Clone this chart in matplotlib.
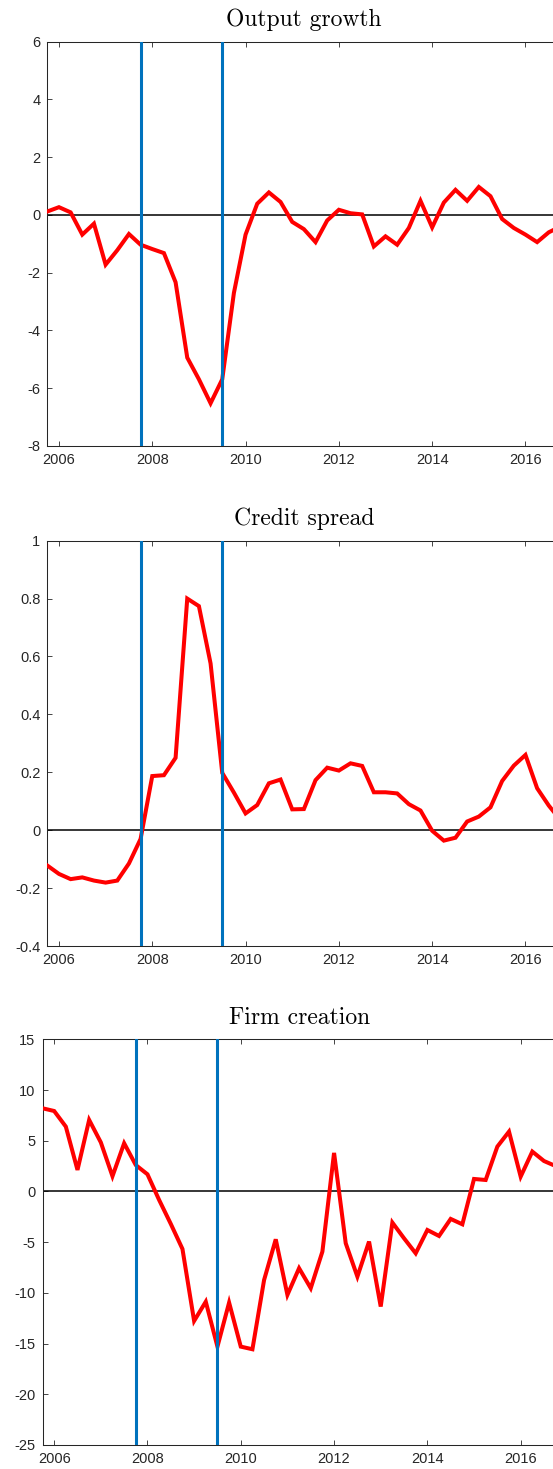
import numpy as np
import matplotlib
matplotlib.use("Agg")
import matplotlib.pyplot as plt

# Quarterly series, first observation 2005Q4
output_growth = [0.12, 0.27, 0.09, -0.68, -0.30, -1.72, -1.22, -0.66, -1.03, -1.18,
                 -1.32, -2.33, -4.94, -5.69, -6.52, -5.69, -2.70, -0.68, 0.39, 0.78,
                 0.45, -0.24, -0.49, -0.94, -0.19, 0.18, 0.06, 0.02, -1.09, -0.74,
                 -1.03, -0.45, 0.49, -0.43, 0.43, 0.87, 0.49, 0.97, 0.65, -0.14,
                 -0.45, -0.68, -0.94, -0.60, -0.40]
credit_spread = [-0.122, -0.151, -0.169, -0.163, -0.174, -0.181, -0.174, -0.115, -0.030, 0.187,
                 0.190, 0.250, 0.800, 0.774, 0.576, 0.198, 0.130, 0.058, 0.087, 0.162,
                 0.175, 0.072, 0.073, 0.173, 0.216, 0.206, 0.231, 0.222, 0.131, 0.131,
                 0.127, 0.090, 0.068, -0.002, -0.036, -0.026, 0.030, 0.047, 0.079, 0.170,
                 0.223, 0.260, 0.145, 0.085, 0.035]
firm_creation = [8.2, 7.93, 6.39, 2.12, 7.05, 4.84, 1.5, 4.75, 2.6, 1.69,
                 -0.84, -3.2, -5.67, -12.77, -10.87, -15.3, -10.96, -15.3, -15.56, -8.73,
                 -4.72, -10.2, -7.57, -9.54, -5.93, 3.8, -5.11, -8.4, -4.94, -11.35,
                 -3.07, -4.62, -6.1, -3.8, -4.39, -2.71, -3.24, 1.23, 1.13, 4.42,
                 5.9, 1.46, 3.93, 3.0, 2.5]

first_quarter = 2005.75
dates = first_quarter + 0.25 * np.arange(len(output_growth))

recession_start = 2007.75
recession_end = 2009.5

titles = ["Output growth", "Credit spread", "Firm creation"]
series = [output_growth, credit_spread, firm_creation]
ylims = [(-8, 6), (-0.4, 1), (-25, 15)]
yticks = [np.arange(-8, 7, 2), np.round(np.arange(-0.4, 1.01, 0.2), 1), np.arange(-25, 16, 5)]
xticks = [2006, 2008, 2010, 2012, 2014, 2016]

plt.rcParams["axes.unicode_minus"] = False
plt.rcParams["font.family"] = ["Liberation Sans", "DejaVu Sans"]

W, H = 553, 1469
fig = plt.figure(figsize=(W / 100, H / 100), dpi=100)

px_per_year = 46.65
# (left, top, bottom) in pixels
boxes = [(47.3, 41.7, 446.0), (47.3, 540.7, 946.0), (42.5, 1039.3, 1445.0)]
xmin, xmax = 2005.75, 2016.75
# the panels run on past the right edge of the figure
xview = 2017.5

ink = "#262626"
for (left, top, bottom), title, y, ylim, yt in zip(boxes, titles, series, ylims, yticks):
    width = (xview - xmin) * px_per_year
    ax = fig.add_axes([left / W, (H - bottom) / H, width / W, (bottom - top) / H])
    ax.axhline(0, color="black", lw=1.1, zorder=2)
    ax.plot(dates, y, color="#FF0000", lw=2.9, solid_joinstyle="miter", zorder=3)
    for xv in (recession_start, recession_end):
        ax.axvline(xv, color="#0072BD", lw=2.2, zorder=4)
    ax.set_xlim(xmin, xview)
    ax.set_ylim(*ylim)
    ax.set_xticks(xticks)
    ax.set_yticks(yt)
    ax.set_yticklabels([("%g" % v) for v in yt])
    ax.tick_params(direction="in", top=True, right=True, length=3.6, width=0.6,
                   color=ink, labelcolor=ink, labelsize=10.5, pad=5)
    for s in ax.spines.values():
        s.set_color(ink)
        s.set_linewidth(0.75)
    # title centred over the full data span
    centre = left + (xmax - xmin) * px_per_year / 2
    fig.text(centre / W, (H - top + 15.7) / H, title, fontfamily="cmr10",
             fontsize=17, ha="center", va="baseline", color="black")

fig.savefig("out.png", dpi=100)
